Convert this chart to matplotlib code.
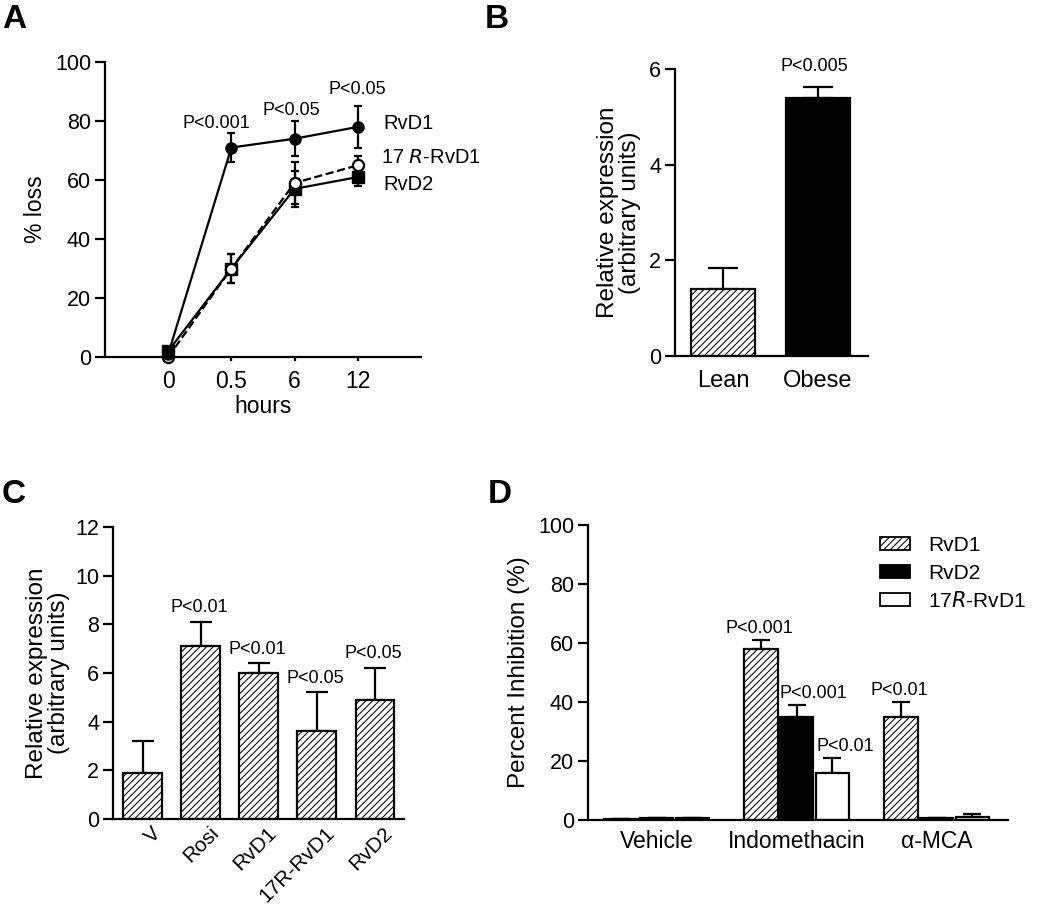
import matplotlib
matplotlib.use("Agg")
import matplotlib.pyplot as plt
from matplotlib.patches import Patch
import matplotlib.transforms as mtransforms
import numpy as np

plt.rcParams['font.family'] = ['Liberation Sans', 'DejaVu Sans']
plt.rcParams['hatch.linewidth'] = 0.75
plt.rcParams['axes.linewidth'] = 1.6

# ---------- Data ----------
# Panel A
a_hours = ["0", "0.5", "6", "12"]
a_rvd1 = [1, 71, 74, 78]
a_rvd1_err = [0, 5, 6, 7]
a_17r = [0, 30, 59, 65]
a_17r_err = [0, 5, 7, 3]
a_rvd2 = [2, 30, 57, 61]
a_rvd2_err = [0, 5, 6, 3]
a_pvals = ["P<0.001", "P<0.05", "P<0.05"]

# Panel B
b_groups = ["Lean", "Obese"]
b_values = [1.4, 5.4]
b_err = [0.45, 0.22]
b_pval = "P<0.005"

# Panel C
c_groups = ["V", "Rosi", "RvD1", "17R-RvD1", "RvD2"]
c_values = [1.9, 7.1, 6.0, 3.6, 4.9]
c_err = [1.3, 1.0, 0.4, 1.6, 1.3]
c_pvals = ["", "P<0.01", "P<0.01", "P<0.05", "P<0.05"]

# Panel D
d_groups = ["Vehicle", "Indomethacin", "\u03b1-MCA"]
d_series = ["RvD1", "RvD2", "17$\\it{R}$-RvD1"]
d_rvd1 = [0.5, 58, 35]
d_rvd1_err = [0, 3, 5]
d_rvd2 = [0.6, 35, 0.6]
d_rvd2_err = [0, 4, 0]
d_17r = [0.7, 16, 1]
d_17r_err = [0, 5, 1]
d_pvals_rvd1 = ["", "P<0.001", "P<0.01"]
d_pvals_rvd2 = ["", "P<0.001", ""]
d_pvals_17r = ["", "P<0.01", ""]

W, H = 1050, 909
fig = plt.figure(figsize=(W / 100, H / 100), dpi=100)

TICK_FS = 15.5
XT_FS = 16.5
LAB_FS = 17.5
P_FS = 13
HATCH = "/////"
LW = 1.6

def style(ax):
    for s in ["top", "right"]:
        ax.spines[s].set_visible(False)
    ax.tick_params(axis="y", direction="out", length=7, width=LW, labelsize=TICK_FS, pad=3)
    ax.tick_params(axis="x", labelsize=XT_FS)

def rect(l, r, b, t):
    return [l / W, 1 - b / H, (r - l) / W, (b - t) / H]

# ---------- Panel A ----------
axA = fig.add_axes(rect(105, 421, 357, 62))
style(axA)
xa = np.arange(len(a_hours))
ekw = dict(capsize=3, elinewidth=LW, capthick=LW, lw=LW, color="black", clip_on=False)
axA.errorbar(xa, a_rvd2, yerr=a_rvd2_err, marker="s", ms=8, mfc="black", mec="black", zorder=3, **ekw)
axA.errorbar(xa, a_17r, yerr=a_17r_err, marker="o", ms=8, mfc="white", mec="black", mew=LW,
             ls="--", zorder=4, **ekw)
axA.errorbar(xa, a_rvd1, yerr=a_rvd1_err, marker="o", ms=8, mfc="black", mec="black", zorder=5, **ekw)
axA.set_xlim(-1, 4)
axA.set_ylim(0, 100)
axA.set_yticks([0, 20, 40, 60, 80, 100])
axA.set_xticks(xa)
axA.set_xticklabels(a_hours)
axA.tick_params(axis="x", direction="out", length=3, width=LW, pad=6)
axA.set_ylabel("% loss", fontsize=16.5, labelpad=6)
axA.set_xlabel("hours", fontsize=16.5, labelpad=2)
a_p_x = [xa[1] - 0.24, xa[2] - 0.05, xa[3]]
a_p_y = [a_rvd1[1] + a_rvd1_err[1] + 1.5, a_rvd1[2] + a_rvd1_err[2] + 2, a_rvd1[3] + a_rvd1_err[3] + 4]
for x, y, p in zip(a_p_x, a_p_y, a_pvals):
    axA.text(x, y, p, ha="center", va="baseline", fontsize=P_FS)
axA.text(3.41, a_rvd1[3] + 1, "RvD1", ha="left", va="center", fontsize=14.5, clip_on=False)
axA.text(3.36, a_17r[3] + 2.5, "17 $\\it{R}$-RvD1", ha="left", va="center", fontsize=14.5, clip_on=False)
axA.text(3.41, a_rvd2[3] - 2.5, "RvD2", ha="left", va="center", fontsize=14.5, clip_on=False)

# ---------- Panel B ----------
axB = fig.add_axes(rect(675, 868, 356, 69))
style(axB)
xb = np.arange(len(b_groups))
axB.bar(xb, b_values, width=0.67, color=["white", "black"], edgecolor="black", linewidth=LW,
        hatch=[HATCH, None], zorder=2)
axB.errorbar(xb, b_values, yerr=[[0, 0], b_err], fmt="none", ecolor="black", elinewidth=LW,
             capsize=10.5, capthick=LW, zorder=1)
axB.set_xlim(-0.505, 1.53)
axB.set_ylim(0, 6)
axB.set_yticks([0, 2, 4, 6])
axB.set_xticks(xb)
axB.set_xticklabels(b_groups, fontsize=17)
axB.tick_params(axis="x", length=0, pad=10)
axB.set_ylabel("Relative expression\n(arbitrary units)", fontsize=LAB_FS, labelpad=6, linespacing=1.0)
axB.text(xb[1] - 0.04, b_values[1] + b_err[1] + 0.34, b_pval, ha="center", va="baseline", fontsize=P_FS)

# ---------- Panel C ----------
axC = fig.add_axes(rect(113, 404, 819, 527))
style(axC)
xc = np.arange(len(c_groups))
axC.bar(xc, c_values, width=0.67, color="white", edgecolor="black", linewidth=LW, hatch=HATCH, zorder=2)
axC.errorbar(xc, c_values, yerr=[[0] * len(xc), c_err], fmt="none", ecolor="black", elinewidth=LW,
             capsize=8, capthick=LW, zorder=1)
axC.set_xlim(-0.51, 4.5)
axC.set_ylim(0, 12)
axC.set_yticks([0, 2, 4, 6, 8, 10, 12])
axC.set_xticks(xc)
axC.set_xticklabels(c_groups, rotation=45, ha="right", rotation_mode="anchor", fontsize=15)
axC.tick_params(axis="x", length=0, pad=3)
shift = mtransforms.ScaledTranslation(8 / 100, 0, fig.dpi_scale_trans)
for lbl in axC.get_xticklabels():
    lbl.set_transform(lbl.get_transform() + shift)
axC.set_ylabel("Relative expression\n(arbitrary units)", fontsize=LAB_FS, labelpad=4, linespacing=1.0)
for x, v, e, p in zip(xc, c_values, c_err, c_pvals):
    if p:
        axC.text(x - 0.03, v + e + 0.4, p, ha="center", va="baseline", fontsize=P_FS)

# ---------- Panel D ----------
axD = fig.add_axes(rect(588, 1008, 820, 525))
style(axD)
xd = np.arange(len(d_groups))
bw, off = 0.24, 0.255
series = [(d_rvd1, d_rvd1_err, "white", HATCH, d_pvals_rvd1, -0.01),
          (d_rvd2, d_rvd2_err, "black", None, d_pvals_rvd2, 0.12),
          (d_17r, d_17r_err, "white", None, d_pvals_17r, 0.09)]
handles = []
for k, (vals, errs, col, h, pv, dx) in enumerate(series):
    pos = xd + (k - 1) * off
    axD.bar(pos, vals, width=bw, color=col, edgecolor="black", linewidth=LW, hatch=h, zorder=2)
    axD.errorbar(pos, vals, yerr=[[0] * len(pos), errs], fmt="none", ecolor="black", elinewidth=LW,
                 capsize=6.5, capthick=LW, zorder=1)
    for x, v, e, p in zip(pos, vals, errs, pv):
        if p:
            axD.text(x + dx, v + e + 2.5, p, ha="center", va="baseline", fontsize=P_FS)
    handles.append(Patch(facecolor=col, edgecolor="black", hatch=h, linewidth=1.3, label=d_series[k]))
axD.set_xlim(-0.49, 2.51)
axD.set_ylim(0, 100)
axD.set_yticks([0, 20, 40, 60, 80, 100])
axD.set_xticks(xd)
axD.set_xticklabels(d_groups)
axD.tick_params(axis="x", length=0, pad=7)
axD.set_ylabel("Percent Inhibition (%)", fontsize=LAB_FS, labelpad=6)
axD.legend(handles=handles, loc="upper left", bbox_to_anchor=(0.695, 0.962), frameon=False,
           borderpad=0, borderaxespad=0,
           fontsize=15, handlelength=1.45, handleheight=0.6, handletextpad=0.85, labelspacing=0.4)

# ---------- Panel letters ----------
for lab, (px, py) in zip("ABCD", [(2, 28), (485, 28), (2, 503), (488, 503)]):
    fig.text(px / W, 1 - py / H, lab, fontsize=24, fontweight="bold", ha="left", va="baseline")

fig.savefig("out.png", dpi=100)
